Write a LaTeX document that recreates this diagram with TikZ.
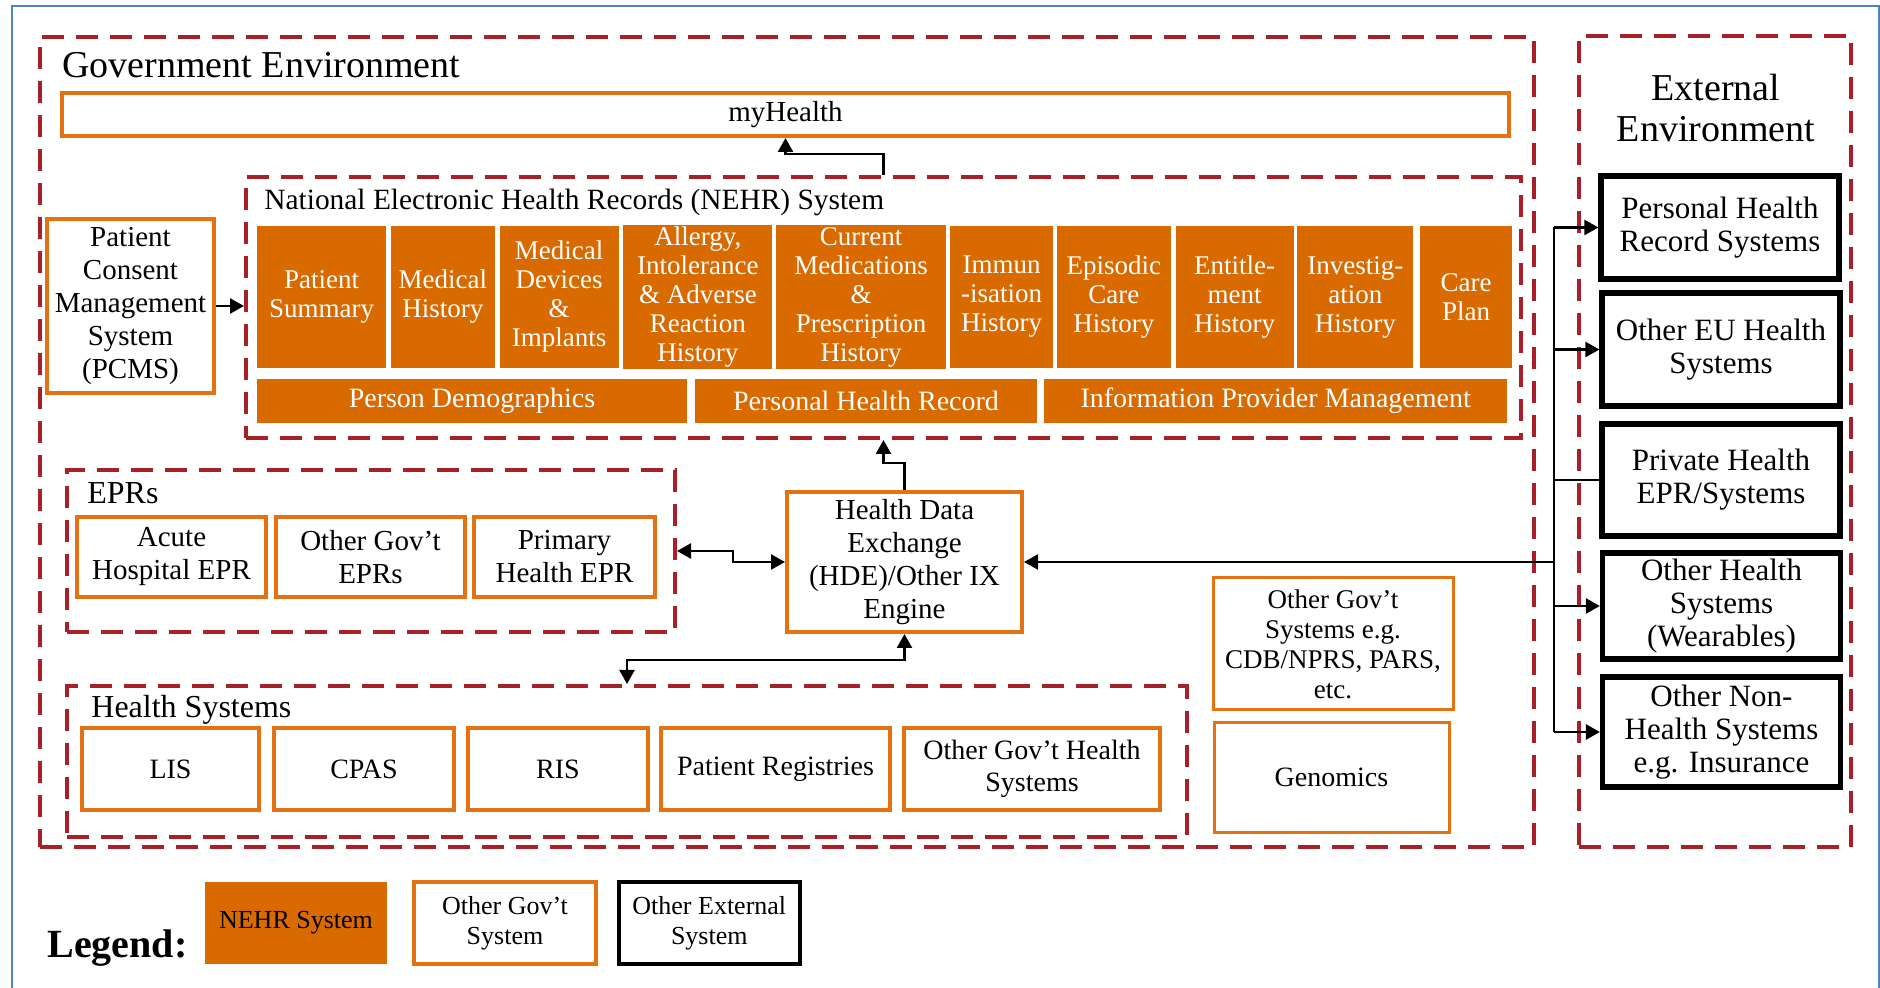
\documentclass[tikz,border=0pt]{standalone}
\usepackage{fontspec}
\setmainfont{Liberation Serif}
\usetikzlibrary{positioning, arrows.meta}
\definecolor{nehrorange}{RGB}{216,106,0}
\definecolor{govorange}{RGB}{228,114,18}
\definecolor{envred}{RGB}{168,32,40}
\definecolor{frameblue}{RGB}{79,129,189}
\tikzset{
cell/.style={fill=nehrorange, text=white, align=center, inner sep=1pt, minimum height=71pt, font=\fontsize{13.5}{14.5}\selectfont},
strip/.style={fill=nehrorange, text=white, minimum height=22pt, inner sep=1pt, font=\fontsize{14}{16}\selectfont},
govsys/.style={draw=govorange, line width=2pt, align=center, inner sep=2pt, font=\fontsize{14.5}{16.5}\selectfont},
extsys/.style={draw=black, line width=2.6pt, align=center, inner sep=1pt, minimum width=119pt, font=\fontsize{15.5}{16.5}\selectfont},
env/.style={draw=envred, line width=2pt, dash pattern=on 11pt off 6pt},
lbl/.style={inner sep=0pt, anchor=west},
arr/.style={-{Triangle[length=7pt,width=7.5pt]}, line width=1.2pt},
arr2/.style={{Triangle[length=7pt,width=7.5pt]}-{Triangle[length=7pt,width=7.5pt]}, line width=1.2pt}}
\begin{document}
\begin{tikzpicture}[x=0.5pt, y=-0.5pt]
\useasboundingbox (0,0) rectangle (1880,988);
\draw[frameblue, line width=1pt] (12,988) -- (12,6) -- (1879,6) -- (1879,988);
\node[env, minimum width=747pt, minimum height=405pt] (gov) at (787,442) {};
\node[env, minimum width=136pt, minimum height=405.5pt] (ext) at (1715,441.5) {};
\node[lbl, font=\fontsize{19}{20}\selectfont] (govlabel) at (62,65) {Government Environment};
\node[align=center, font=\fontsize{19}{20.5}\selectfont] (extlabel) at (1716,108) {External\\Environment};
\node[govsys, minimum width=723.5pt, minimum height=21.5pt] (myhealth) at (785.5,114.5) {myHealth};
\node[env, minimum width=637.5pt, minimum height=130.5pt] (nehr) at (883.5,307.5) {};
\node[lbl, font=\fontsize{14.7}{16}\selectfont] (nehrlabel) at (264,202) {National Electronic Health Records (NEHR) System};
\node[govsys, minimum width=83.5pt, minimum height=87pt] (pcms) at (130.5,306) {Patient\\Consent\\Management\\System\\(PCMS)};
\node[cell, minimum width=64.5pt] (summary) at (321.5,297) {Patient\\Summary};
\node[cell, minimum width=52pt, right=2pt of summary] (medhist) {Medical\\History};
\node[cell, minimum width=59.5pt, right=2pt of medhist] (devices) {Medical\\Devices\\\&\\Implants};
\node[cell, minimum width=74.5pt, right=2pt of devices] (allergy) {Allergy,\\Intolerance\\\& Adverse\\Reaction\\History};
\node[cell, minimum width=85pt, right=1.5pt of allergy] (meds) {Current\\Medications\\\&\\Prescription\\History};
\node[cell, minimum width=51.5pt, right=1.5pt of meds] (immun) {Immun\\-isation\\History};
\node[cell, minimum width=57pt, right=1.5pt of immun] (episodic) {Episodic\\Care\\History};
\node[cell, minimum width=59pt, right=2pt of episodic] (entitle) {Entitle-\\ment\\History};
\node[cell, minimum width=58pt, right=1.5pt of entitle] (investig) {Investig-\\ation\\History};
\node[cell, minimum width=46pt, right=3pt of investig] (careplan) {Care\\Plan};
\node[strip, minimum width=215pt] (demog) at (472,401) {Person Demographics};
\node[strip, minimum width=171pt, right=3.6pt of demog] (phrec) {Personal Health Record};
\node[strip, minimum width=231.5pt, right=3.2pt of phrec] (ipm) {Information Provider Management};
\node[env, minimum width=304pt, minimum height=81pt] (eprs) at (371,551) {};
\node[lbl, font=\fontsize{16}{17}\selectfont] (eprlabel) at (87,493) {EPRs};
\node[govsys, minimum width=94.5pt, minimum height=40pt] (acute) at (171.5,557) {Acute\\Hospital EPR};
\node[govsys, minimum width=94.5pt, minimum height=40pt, right=3pt of acute] (govepr) {Other Gov't\\EPRs};
\node[govsys, minimum width=90.5pt, minimum height=40pt, right=2.5pt of govepr] (primary) {Primary\\Health EPR};
\node[govsys, minimum width=117.5pt, minimum height=70pt] (hde) at (904.5,562) {Health Data\\Exchange\\(HDE)/Other IX\\Engine};
\node[env, minimum width=560pt, minimum height=75.5pt] (hsys) at (627,761.5) {};
\node[lbl, font=\fontsize{16}{17}\selectfont] (hsyslabel) at (91,710) {Health Systems};
\node[govsys, minimum width=88.5pt, minimum height=41pt, font=\fontsize{14}{16}\selectfont] (lis) at (170.5,769) {LIS};
\node[govsys, minimum width=90pt, minimum height=41pt, font=\fontsize{14}{16}\selectfont, right=5.5pt of lis] (cpas) {CPAS};
\node[govsys, minimum width=90pt, minimum height=41pt, font=\fontsize{14}{16}\selectfont, right=5pt of cpas] (ris) {RIS};
\node[govsys, minimum width=114.5pt, minimum height=41pt, font=\fontsize{14}{16}\selectfont, right=4.5pt of ris] (registries) {Patient Registries};
\node[govsys, minimum width=128pt, minimum height=41pt, font=\fontsize{14}{16}\selectfont, right=5pt of registries] (govhealth) {Other Gov't Health\\Systems};
\node[govsys, line width=1.5pt, minimum width=120pt, minimum height=66pt, font=\fontsize{13.5}{15}\selectfont] (othergov) at (1333,644) {Other Gov't\\Systems e.g.\\CDB/NPRS, PARS,\\etc.};
\node[govsys, line width=1.5pt, minimum width=117.5pt, minimum height=54.5pt, font=\fontsize{14}{16}\selectfont] (genomics) at (1331.5,777.5) {Genomics};
\node[extsys, minimum height=51.5pt] (phr) at (1720,227.5) {Personal Health\\Record Systems};
\node[extsys, minimum height=56.5pt] (eu) at (1721,349.5) {Other EU Health\\Systems};
\node[extsys, minimum height=56pt] (priv) at (1721,480) {Private Health\\EPR/Systems};
\node[extsys, minimum height=53pt] (wear) at (1721.5,606) {Other Health\\Systems\\(Wearables)};
\node[extsys, minimum height=55pt] (nonh) at (1721.5,732) {Other Non-\\Health Systems\\e.g. Insurance};
\coordinate (bus) at (1554,0);
\node[lbl, font=\fontsize{20}{22}\selectfont\bfseries] (legend) at (47,948) {Legend:};
\node[fill=nehrorange, minimum width=91pt, minimum height=41pt, font=\fontsize{13}{15}\selectfont] (keynehr) at (296,923) {NEHR System};
\node[govsys, minimum width=91pt, minimum height=41pt, font=\fontsize{13}{15}\selectfont, right=12.3pt of keynehr] (keygov) {Other Gov't\\System};
\node[extsys, line width=2.2pt, minimum width=90.5pt, minimum height=41pt, font=\fontsize{13}{15}\selectfont, right=9.3pt of keygov] (keyext) {Other External\\System};
\draw[arr] (nehr.north) -- ++(0,-21) -| (myhealth.south);
\draw[arr] (pcms.east) -- (pcms.east -| nehr.west);
\draw[arr] (hde.north) -- ++(0,-27) -| (nehr.south);
\draw[arr2] (eprs.east) -- ++(56,0) |- (hde.west);
\draw[arr2] (hde.south) -- ++(0,26) -| (hsys.north);
\draw[line width=1.2pt] (bus |- phr.west) -- (bus |- nonh.west);
\draw[arr] (bus |- hde.east) -- (hde.east);
\draw[arr] (bus |- phr.west) -- (phr.west);
\draw[arr] (bus |- eu.west) -- (eu.west);
\draw[line width=1.2pt] (bus |- priv.west) -- (priv.west);
\draw[arr] (bus |- wear.west) -- (wear.west);
\draw[arr] (bus |- nonh.west) -- (nonh.west);
\end{tikzpicture}
\end{document}
